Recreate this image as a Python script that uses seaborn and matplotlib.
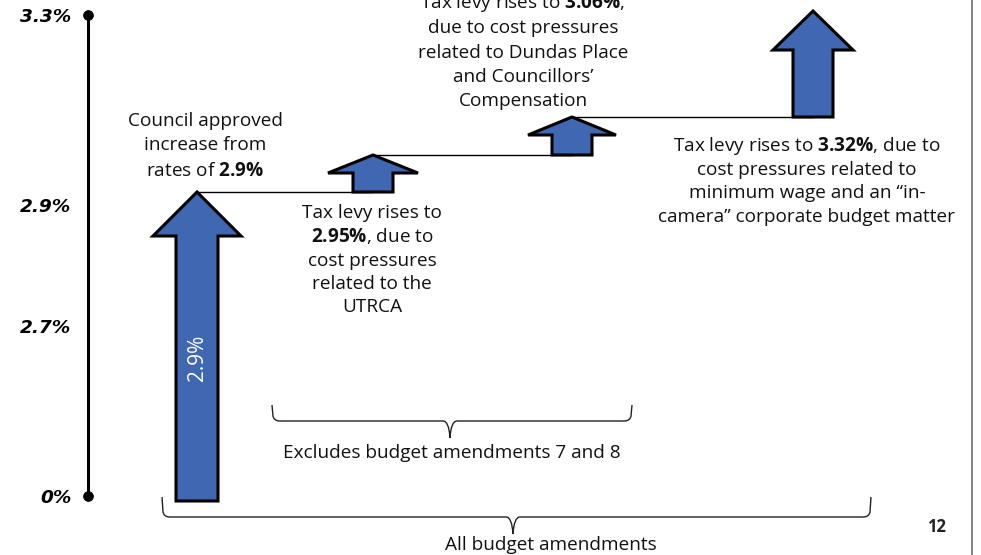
import numpy as np
import matplotlib
matplotlib.use("Agg")
import matplotlib.pyplot as plt
import matplotlib.patches as mpatches
from matplotlib.path import Path
import seaborn as sns

# ---------------- data ----------------
start_level = 0.0
levels = [2.9, 2.95, 3.06, 3.32]          # tax levy (%) after each step
axis_ticks = [0, 2.7, 2.9, 3.3]
axis_tick_labels = ["0%", "2.7%", "2.9%", "3.3%"]
brace_labels = ["Excludes budget amendments 7 and 8", "All budget amendments"]
page_number = "12"


def bold_pct(v):
    return "$\\mathbf{" + f"{v:g}" + "\\%}$"


notes = [
    "Council approved\nincrease from\nrates of " + bold_pct(levels[0]),
    "Tax levy rises to\n" + bold_pct(levels[1]) + ", due to\ncost pressures\nrelated to the\nUTRCA",
    "Tax levy rises to " + bold_pct(levels[2]) + ",\ndue to cost pressures\nrelated to Dundas Place\nand Councillors\u2019\nCompensation",
    "Tax levy rises to " + bold_pct(levels[3]) + ", due to\ncost pressures related to\nminimum wage and an \u201cin-\ncamera\u201d corporate budget matter",
]
inner_label = f"{levels[0]:g}%"

# ---------------- layout ----------------
W, H = 981, 555
arrow_x = [197, 373, 572, 813]
shaft_half = [21, 20, 20, 20]
head_half = [44, 45, 44, 40]
head_len = [44, 18, 18, 39]
arrow_rows = [501, 192, 155, 117, 11]     # schematic rows for start + levels
axis_rows = [496, 326, 205, 15]           # schematic rows of the left axis ticks
note_pos = [(205, 144), (372, 259), (523, 51), (807, 180)]
note_gap = [25, 23.5, 24.5, 23.7]
FS = 13.7

BLUE = "#4068B2"

sns.set_theme(style="white")
plt.rcParams["font.family"] = ["Open Sans", "DejaVu Sans"]
plt.rcParams["mathtext.fontset"] = "custom"
plt.rcParams["mathtext.rm"] = "Open Sans"
plt.rcParams["mathtext.bf"] = "Open Sans:bold"
plt.rcParams["mathtext.it"] = "Open Sans:italic"


def make_scale(vals, rows):
    v = np.asarray(vals, float)
    h = H - np.asarray(rows, float)
    s0 = (h[1] - h[0]) / (v[1] - v[0])
    s1 = (h[-1] - h[-2]) / (v[-1] - v[-2])
    v = np.r_[v[0] - 50, v, v[-1] + 50]
    h = np.r_[h[0] - 50 * s0, h, h[-1] + 50 * s1]
    fwd = lambda x: np.interp(x, v, h)
    inv = lambda y: np.interp(y, h, v)
    return fwd, inv


fig = plt.figure(figsize=(W / 100, H / 100), dpi=100)
fig.patch.set_facecolor("white")

# ---- arrows axis ----
ax = fig.add_axes([0, 0, 1, 1])
fwd, inv = make_scale([start_level] + levels, arrow_rows)
ax.set_yscale("function", functions=(fwd, inv))
ax.set_xlim(0, W)
ax.set_ylim(inv(0), inv(H))
ax.axis("off")
ax.patch.set_alpha(0)

bases = [start_level] + levels[:-1]
for i, (b, t) in enumerate(zip(bases, levels)):
    x = arrow_x[i]
    sh, hh = shaft_half[i], head_half[i]
    hb = float(inv(fwd(t) - head_len[i]))
    verts = [(x - sh, b), (x + sh, b), (x + sh, hb), (x + hh, hb), (x, t),
             (x - hh, hb), (x - sh, hb)]
    ax.add_patch(mpatches.Polygon(verts, closed=True, facecolor=BLUE,
                                  edgecolor="black", lw=2.2, joinstyle="miter",
                                  zorder=3))
for i in range(len(levels) - 1):
    ax.plot([arrow_x[i], arrow_x[i + 1]], [levels[i], levels[i]],
            color="black", lw=1.0, zorder=2)

# ---- left axis ----
axl = fig.add_axes([88 / W, 0, 0.05, 1])
fwd2, inv2 = make_scale(axis_ticks, axis_rows)
axl.set_yscale("function", functions=(fwd2, inv2))
sns.scatterplot(x=[0, 0], y=[axis_ticks[0], axis_ticks[-1]], ax=axl,
                color="black", s=50, edgecolor="black", legend=False,
                clip_on=False, zorder=5)
axl.set_xlim(0, 1)
axl.set_ylim(inv2(0), inv2(H))
axl.patch.set_alpha(0)
for sp in ["top", "right", "bottom"]:
    axl.spines[sp].set_visible(False)
axl.spines["left"].set_color("black")
axl.spines["left"].set_linewidth(2.2)
axl.spines["left"].set_bounds(axis_ticks[0], axis_ticks[-1])
axl.set_xticks([])
axl.set_yticks(axis_ticks)
axl.set_yticklabels(axis_tick_labels, fontsize=13.3, fontweight="bold",
                    fontstyle="italic", family="DejaVu Sans", color="black")
axl.tick_params(axis="y", length=0, pad=12)
axl.set_xlabel("")
axl.set_ylabel("")

# ---- annotations (pixel coordinates) ----
an = fig.add_axes([0, 0, 1, 1])
an.set_xlim(0, W)
an.set_ylim(H, 0)
an.axis("off")
an.patch.set_alpha(0)

for (x, yc), gap, s in zip(note_pos, note_gap, notes):
    lines = s.split("\n")
    n = len(lines)
    for k, line in enumerate(lines):
        yb = yc + (k - (n - 1) / 2) * gap + 6.5
        an.text(x, yb, line, ha="center", va="baseline", fontsize=FS,
                color="#111111", zorder=6)

an.text(arrow_x[0], 358, inner_label, rotation=90, ha="center", va="center",
        color="white", fontsize=15, zorder=6)


def brace(x0, x1, ytop, ybot, xm, ytip):
    verts = [(x0, ytop), (x0 + 1, ybot - 5), (x0 + 2, ybot), (x0 + 8, ybot),
             (xm - 7, ybot), (xm - 1, ybot), (xm, ytip),
             (xm + 1, ybot), (xm + 7, ybot),
             (x1 - 8, ybot), (x1 - 2, ybot), (x1 - 1, ybot - 5), (x1, ytop)]
    codes = [Path.MOVETO, Path.LINETO, Path.CURVE3, Path.CURVE3,
             Path.LINETO, Path.CURVE3, Path.CURVE3,
             Path.CURVE3, Path.CURVE3,
             Path.LINETO, Path.CURVE3, Path.CURVE3, Path.LINETO]
    an.add_patch(mpatches.PathPatch(Path(verts, codes), facecolor="none",
                                    edgecolor="#222222", lw=1.0, zorder=4))


brace(272, 632, 405, 421, 450, 438)
brace(162, 871, 497, 517, 513, 534)
an.text(452, 453, brace_labels[0], ha="center", va="center", fontsize=FS,
        color="#111111")
an.text(551, 545, brace_labels[1], ha="center", va="center", fontsize=FS,
        color="#111111")
an.text(936, 527, page_number, ha="center", va="center", fontsize=12,
        fontweight="bold", color="#222222")
an.plot([972, 972], [0, H], color="#6f6f6f", lw=1.2)

fig.savefig("out.png", dpi=100, facecolor="white")
